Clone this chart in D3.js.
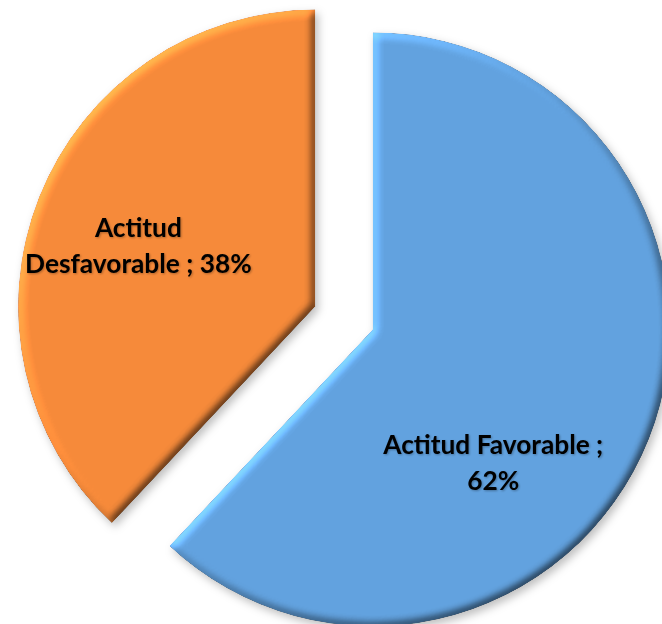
<!DOCTYPE html>
<html>
<head>
<meta charset="utf-8">
<script src="https://cdn.jsdelivr.net/npm/d3@7"></script>
<style>
  html, body { margin: 0; padding: 0; background: #fff; }
  svg { display: block; }
</style>
</head>
<body>
<div id="chart"></div>
<script>
// ---- data ----
const categories = ["Actitud Favorable", "Actitud Desfavorable"];
const values = [62, 38];
const percentLabels = ["62%", "38%"];
const colors = ["#62A2DF", "#F68A3A"];
const labelLines = [["Actitud Favorable ;", "62%"], ["Actitud", "Desfavorable ; 38%"]];

// ---- layout ----
const W = 662, H = 624;
const cx = 344, cy = 318, R = 297, explode = 31;
const labelAngleDeg = [138, 289];
const labelDist = [180, 187];
const lineHeight = 36;
const targetLineWidth = 220;

const svg = d3.select("#chart").append("svg").attr("width", W).attr("height", H);
const defs = svg.append("defs");

// bevel + drop shadow
const elev = 35, mix = 0.5;
const f = defs.append("filter").attr("id", "bevel")
  .attr("x", "-10%").attr("y", "-10%").attr("width", "120%").attr("height", "120%")
  .attr("color-interpolation-filters", "sRGB");
f.append("feGaussianBlur").attr("in", "SourceAlpha").attr("stdDeviation", 4).attr("result", "blur");
const dl = f.append("feDiffuseLighting").attr("in", "blur").attr("surfaceScale", 4)
  .attr("diffuseConstant", 1).attr("lighting-color", "#fff").attr("result", "diff");
dl.append("feDistantLight").attr("azimuth", 225).attr("elevation", elev);
f.append("feComposite").attr("in", "SourceGraphic").attr("in2", "diff")
  .attr("operator", "arithmetic").attr("k1", mix / Math.sin(elev * Math.PI / 180))
  .attr("k2", 1 - mix).attr("k3", 0).attr("k4", 0).attr("result", "lit");
f.append("feComposite").attr("in", "lit").attr("in2", "SourceAlpha").attr("operator", "in").attr("result", "litIn");
f.append("feGaussianBlur").attr("in", "SourceAlpha").attr("stdDeviation", 4).attr("result", "sblur");
f.append("feOffset").attr("in", "sblur").attr("dx", 3).attr("dy", 4).attr("result", "soff");
f.append("feFlood").attr("flood-color", "#000").attr("flood-opacity", 0.25).attr("result", "sflood");
f.append("feComposite").attr("in", "sflood").attr("in2", "soff").attr("operator", "in").attr("result", "shadow");
const fm = f.append("feMerge");
fm.append("feMergeNode").attr("in", "shadow");
fm.append("feMergeNode").attr("in", "litIn");

// text shadow
const tf = defs.append("filter").attr("id", "tshadow").attr("x", "-10%").attr("y", "-30%").attr("width", "120%").attr("height", "160%");
tf.append("feGaussianBlur").attr("in", "SourceAlpha").attr("stdDeviation", 1.2).attr("result", "b");
tf.append("feOffset").attr("in", "b").attr("dx", 1).attr("dy", 1).attr("result", "o");
tf.append("feComponentTransfer").attr("in", "o").attr("result", "oa")
  .append("feFuncA").attr("type", "linear").attr("slope", 0.3);
const tm = tf.append("feMerge");
tm.append("feMergeNode").attr("in", "oa");
tm.append("feMergeNode").attr("in", "SourceGraphic");

const pie = d3.pie().sort(null).value(d => d);
const arcs = pie(values);
const arc = d3.arc().innerRadius(0).outerRadius(R);

const g = svg.append("g").attr("transform", `translate(${cx},${cy})`);

const slices = g.selectAll("g.slice").data(arcs).join("g")
  .attr("class", "slice")
  .attr("transform", d => {
    const m = (d.startAngle + d.endAngle) / 2;
    return `translate(${Math.sin(m) * explode},${-Math.cos(m) * explode})`;
  });

slices.append("path")
  .attr("d", arc)
  .attr("fill", (d, i) => colors[i])
  .attr("filter", "url(#bevel)");

// labels
const fontFamily = "Lato, 'Open Sans', 'DejaVu Sans', sans-serif";
const probe = svg.append("text").attr("font-family", fontFamily).attr("font-weight", 700)
  .attr("font-size", 100).text(labelLines[0][0]);
const w100 = probe.node().getComputedTextLength();
probe.remove();
const fontSize = 100 * targetLineWidth / w100;

slices.each(function (d, i) {
  const a = labelAngleDeg[i] * Math.PI / 180;
  const lx = Math.sin(a) * labelDist[i];
  const ly = -Math.cos(a) * labelDist[i];
  const n = labelLines[i].length;
  const t = d3.select(this).append("text")
    .attr("text-anchor", "middle")
    .attr("font-family", fontFamily)
    .attr("font-weight", 700)
    .attr("font-size", fontSize)
    .attr("fill", "#000")
    .attr("filter", "url(#tshadow)");
  labelLines[i].forEach((line, j) => {
    t.append("tspan")
      .attr("x", lx)
      .attr("y", ly + (j - (n - 1) / 2) * lineHeight + fontSize * 0.35)
      .text(line);
  });
});
</script>
</body>
</html>
